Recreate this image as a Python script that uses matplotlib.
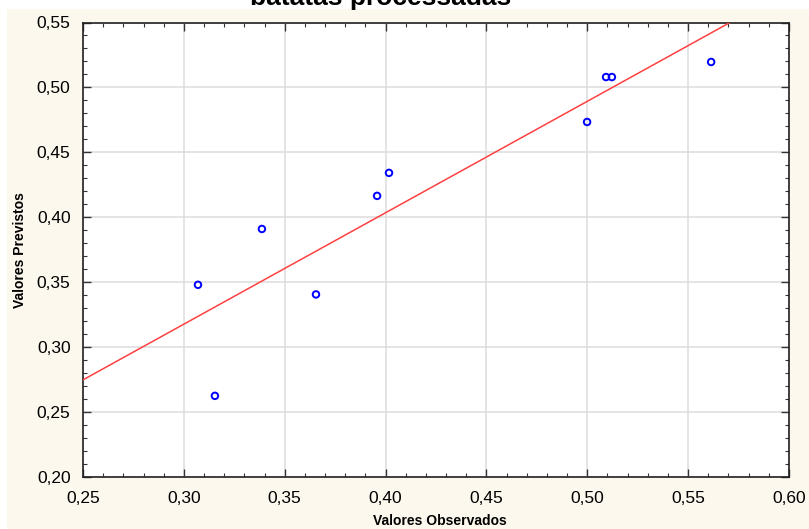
import numpy as np
import matplotlib
matplotlib.use('Agg')
import matplotlib.pyplot as plt
from matplotlib.ticker import MultipleLocator, FuncFormatter
from matplotlib.patches import Rectangle

plt.rcParams['font.family'] = ['Liberation Sans', 'DejaVu Sans']

# observed vs predicted values
observados = [0.307, 0.3154, 0.3387, 0.3655, 0.3958, 0.4017, 0.4999, 0.5093, 0.5122, 0.5614]
previstos = [0.348, 0.2625, 0.391, 0.3406, 0.4165, 0.4342, 0.4734, 0.508, 0.508, 0.5196]
# fitted line (slope, intercept)
reta = [0.858, 0.0603]

fig = plt.figure(figsize=(8.09, 5.29), dpi=100, facecolor='white')
fig.patches.append(Rectangle((7/809, 0), 1, 1 - 9/529, transform=fig.transFigure,
                             facecolor='#fdf8ee', edgecolor='none', zorder=-10))
ax = fig.add_axes([83/809, 1 - 477/529, (789-83)/809, (477-22.5)/529])
ax.set_facecolor('white')

xx = np.array([0.25, 0.60])
ax.plot(xx, reta[0]*xx + reta[1], color='#ff4040', lw=1.1, zorder=3)
ax.scatter(observados, previstos, s=22, facecolors='none', edgecolors='#0000ff',
           linewidths=1.4, zorder=4)

ax.set_xlim(0.25, 0.60)
ax.set_ylim(0.20, 0.55)
ax.xaxis.set_major_locator(MultipleLocator(0.05))
ax.yaxis.set_major_locator(MultipleLocator(0.05))
ax.xaxis.set_minor_locator(MultipleLocator(0.01))
ax.yaxis.set_minor_locator(MultipleLocator(0.01))
fmt = FuncFormatter(lambda v, p: ('%.2f' % v).replace('.', ','))
ax.xaxis.set_major_formatter(fmt)
ax.yaxis.set_major_formatter(fmt)
ax.grid(True, which='major', color='#dcdcdc', lw=1.1, zorder=0)
ax.set_axisbelow(True)
ax.tick_params(which='both', direction='in', top=True, right=True, color='#333333')
ax.tick_params(which='major', length=6, width=1, labelsize=12.5)
ax.tick_params(axis='x', which='major', pad=10)
ax.tick_params(axis='y', which='major', pad=9)
ax.tick_params(which='minor', length=3, width=0.8)
for s in ax.spines.values():
    s.set_linewidth(1.2)
    s.set_color('#222222')

fig.text(440/809, 1 - 521/529, 'Valores Observados', ha='center', va='center',
         fontsize=10, fontweight='bold')
fig.text(20/809, 1 - 250/529, 'Valores Previstos', ha='center', va='center',
         rotation=90, fontsize=10, fontweight='bold')
fig.text(381/809, 1 - 5/529, 'batatas processadas', ha='center', va='baseline',
         fontsize=19, fontweight='bold')

fig.savefig('out.png', dpi=100, facecolor=fig.get_facecolor())
